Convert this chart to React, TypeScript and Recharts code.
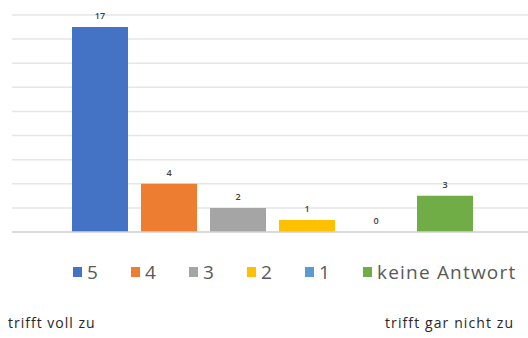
import React from "react";
import { BarChart, Bar, XAxis, YAxis, CartesianGrid, ReferenceLine } from "recharts";

const seriesNames = ["5", "4", "3", "2", "1", "keine Antwort"];
const seriesValues = [17, 4, 2, 1, 0, 3];
const seriesColors = ["#4472C4", "#ED7D31", "#A5A5A5", "#FFC000", "#5B9BD5", "#70AD47"];
const yTicks = [0, 2, 4, 6, 8, 10, 12, 14, 16, 18];

const row: Record<string, number | string> = { name: "" };
seriesNames.forEach((n, i) => {
  row["s" + i] = seriesValues[i];
});
const data = [row];

const font = "'Open Sans', 'Noto Sans', sans-serif";

// draws the value above each bar, also for bars of height 0
const valueLabel = (props: any) => {
  const { x, y, width, value } = props;
  return (
    <text
      x={Number(x) + Number(width) / 2}
      y={Number(y) - 8}
      textAnchor="middle"
      fontSize={9}
      fontWeight={600}
      fill="#404040"
      fontFamily={font}
    >
      {value}
    </text>
  );
};

export default function App() {
  return (
    <div
      style={{
        position: "fixed",
        left: 0,
        top: 0,
        width: 528,
        height: 338,
        overflow: "hidden",
        background: "#fff",
        fontFamily: font,
      }}
    >
      <BarChart
        width={533}
        height={338}
        data={data}
        margin={{ top: 15, right: 0, bottom: 106, left: 12 }}
        barSize={56}
        barGap={13}
      >
        <CartesianGrid vertical={false} stroke="#e6e6e6" strokeWidth={1.5} />
        <XAxis dataKey="name" hide />
        <YAxis hide domain={[0, 18]} ticks={yTicks} />
        <ReferenceLine y={0} stroke="#d4d4d4" strokeWidth={1.5} />
        {seriesNames.map((n, i) => (
          <Bar
            key={n}
            dataKey={"s" + i}
            name={n}
            fill={seriesColors[i]}
            minPointSize={0.01}
            isAnimationActive={false}
            label={valueLabel}
          />
        ))}
      </BarChart>
      <div
        style={{
          position: "absolute",
          left: 73,
          top: 259,
          display: "flex",
          alignItems: "center",
          fontSize: 19,
          letterSpacing: 1.2,
          color: "#595959",
          whiteSpace: "nowrap",
        }}
      >
        {seriesNames.map((n, i) => (
          <div key={n} style={{ display: "flex", alignItems: "center", width: i < 5 ? 58 : undefined }}>
            <div style={{ width: 9, height: 10, background: seriesColors[i], marginRight: 5 }} />
            <span>{n}</span>
          </div>
        ))}
      </div>
      <div
        style={{ position: "absolute", left: 8, top: 313, fontSize: 14, letterSpacing: 1, color: "#262626" }}
      >
        trifft voll zu
      </div>
      <div
        style={{ position: "absolute", left: 385, top: 313, fontSize: 14, letterSpacing: 1.1, color: "#262626" }}
      >
        trifft gar nicht zu
      </div>
    </div>
  );
}
